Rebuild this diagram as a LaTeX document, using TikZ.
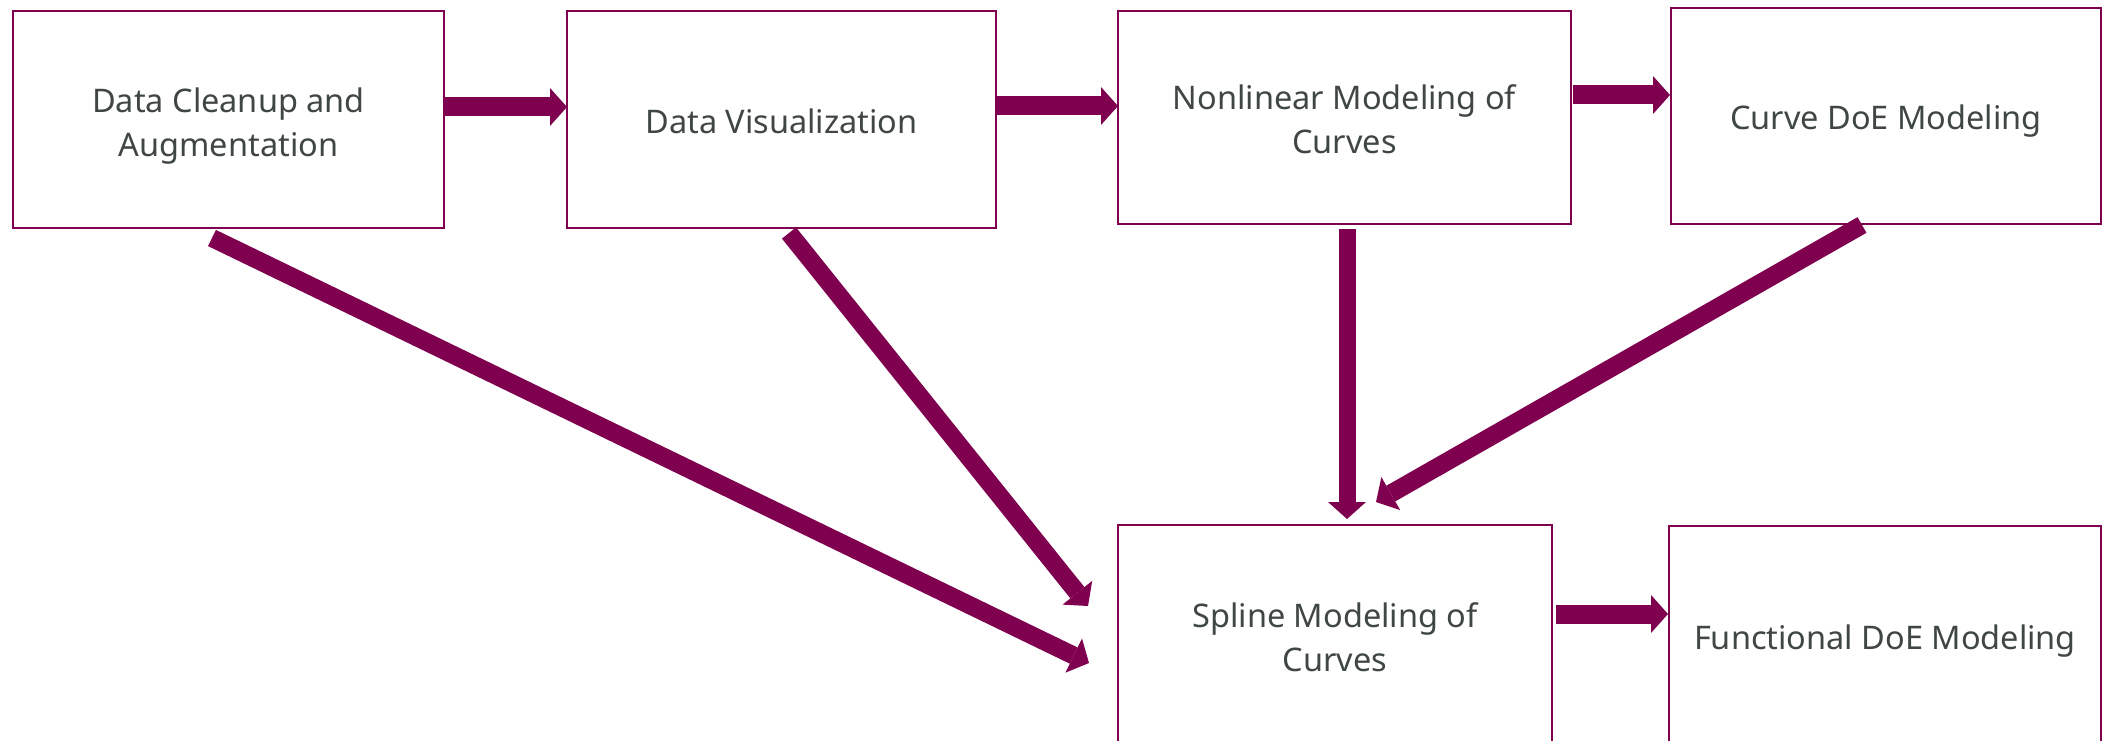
\documentclass[tikz,border=0pt]{standalone}
\usepackage{fontspec}
\setmainfont{Noto Sans}
\usetikzlibrary{arrows.meta}

\definecolor{plum}{RGB}{128,0,80}
\definecolor{inkgray}{RGB}{64,70,70}

\tikzset{every picture/.style={line width=0.75pt}}
\tikzset{
	stage/.style={draw=plum, line width=2.4pt, fill=white,
		minimum width=431pt, minimum height=217pt, inner sep=0pt, outer sep=0pt},
	caption/.style={text=inkgray, align=center, inner sep=0pt,
		font=\fontsize{32.5}{44}\selectfont},
	flow/.style={draw=plum, line width=19pt,
		-{Triangle[length=17pt,width=38pt,line width=0pt]}},
	slant/.style={flow, line width=18pt}}

\begin{document}
\begin{tikzpicture}[x=1pt,y=1pt,yscale=-1,xscale=1]
	\useasboundingbox (0,0) rectangle (2105,741);

	%Shape: Rectangle (top row)
	\node[stage] (clean) at (228.5,119.5) {};
	%Shape: Rectangle
	\node[stage, minimum width=429pt] (visual) at (781.5,119.5) {};
	%Shape: Rectangle
	\node[stage, minimum width=453pt, minimum height=213pt] (nonlin) at (1344.5,117.5) {};
	%Shape: Rectangle
	\node[stage, minimum width=430pt, minimum height=216pt] (curvedoe) at (1886,116) {};

	%Shape: Rectangle (bottom row, runs off the page)
	\node[stage, minimum width=434pt, minimum height=224pt] (spline) at (1335,637) {};
	%Shape: Rectangle
	\node[stage, minimum width=432pt, minimum height=223pt] (funcdoe) at (1885,637.5) {};

	% Text Node
	\node[caption] (clean-t) at ([yshift=6.5pt]clean.center) {Data Cleanup and\\Augmentation};
	% Text Node
	\node[caption] (visual-t) at ([yshift=1.5pt]visual.center) {Data Visualization};
	% Text Node
	\node[caption] (nonlin-t) at ([yshift=2pt]nonlin.center) {Nonlinear Modeling of\\Curves};
	% Text Node
	\node[caption] (curvedoe-t) at ([yshift=5pt]curvedoe.center) {Curve DoE Modeling};
	% Text Node
	\node[caption] (spline-t) at (spline.center) {Spline Modeling of\\Curves};
	% Text Node
	\node[caption] (funcdoe-t) at ([yshift=4pt]funcdoe.center) {Functional DoE Modeling};

	%Straight Lines
	\draw[flow] ([yshift=-12.5pt]clean.east) -- ([yshift=-12.5pt]visual.west);
	%Straight Lines
	\draw[flow] ([yshift=-13.5pt]visual.east) -- ([yshift=-11.5pt]nonlin.west);
	%Straight Lines
	\draw[flow] ([xshift=2pt,yshift=-22.5pt]nonlin.east) -- ([xshift=-1pt,yshift=-21pt]curvedoe.west);
	%Straight Lines
	\draw[flow] ([xshift=4pt,yshift=-23pt]spline.east) -- ([xshift=-1pt,yshift=-23.5pt]funcdoe.west);

	%Straight Lines (into spline)
	\draw[slant] ([xshift=-16.5pt,yshift=10pt]clean.south) -- ([xshift=-29pt,yshift=26pt]spline.west);
	%Straight Lines
	\draw[slant] ([xshift=7.5pt,yshift=5pt]visual.south) -- ([xshift=-30pt,yshift=-31pt]spline.west);
	%Straight Lines
	\draw[flow, line width=17pt] ([xshift=2.5pt,yshift=5pt]nonlin.south) -- ([xshift=12pt,yshift=-6pt]spline.north);
	%Straight Lines
	\draw[slant] ([xshift=-24pt,yshift=1pt]curvedoe.south) -- ([xshift=41pt,yshift=-23pt]spline.north);

\end{tikzpicture}
\end{document}
